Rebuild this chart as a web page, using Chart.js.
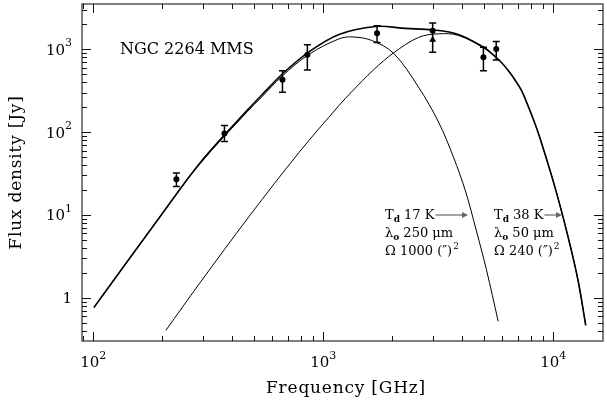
<!DOCTYPE html>
<html>
<head>
<meta charset="utf-8">
<script src="https://cdn.jsdelivr.net/npm/chart.js@4.4.1/dist/chart.umd.min.js"></script>
<style>
    body { margin: 0; background: #fff; }
    #wrap { width: 607px; height: 406px; position: relative; }
</style>
</head>
<body>
<div id="wrap"><canvas id="sed"></canvas></div>
<script>
// observed points (GHz, Jy)
const circFreq = [230, 372, 665, 853, 1714, 2990, 4970, 5650];
const circFlux = [27, 96, 428, 863, 1560, 1680, 801, 1010];
const circLow  = [22, 77, 303, 565, 1213, null, 553, 745];
const circHigh = [32, 120, 553, 1140, 1930, null, 1057, 1240];

const triFreq = [2990];
const triFlux = [1310];
const triLow  = [920];
const triHigh = [2080];

// total fit
const totalFreq = [100.7, 198, 290, 468, 537, 662, 867, 1170, 1690, 2280, 2985, 3865, 4965, 5483, 5940, 6383, 6830, 7265, 7620, 8166, 8750, 10160, 11560, 12790, 13840];
const totalFlux = [0.764, 10.06, 41.9, 184.6, 275, 500, 933, 1515, 1892, 1790, 1718, 1516, 1066, 859, 698, 551, 424, 321, 237, 146, 84.9, 21.8, 5.62, 1.66, 0.464];

// cold component (17 K)
const coldFreq = [100.7, 198, 290, 468, 537, 662, 867, 1170, 1331, 1622, 2023, 2596, 3170, 3680, 4150, 4630, 5120, 5762];
const coldFlux = [0.752, 9.99, 40.9, 177, 261, 473, 871, 1337, 1413, 1283, 895, 349, 132.5, 50.1, 19.5, 6.46, 2.19, 0.519];

// warm component (38 K)
const warmFreq = [207, 290, 477, 785, 1170, 1331, 1655, 2023, 2596, 3170, 3865, 4965, 5483, 5940, 6383, 6830, 7265, 7620, 8166, 8750, 10160, 11560, 12790, 13840];
const warmFlux = [0.404, 1.49, 9.64, 56.9, 209, 308, 566, 907, 1394, 1541, 1474, 1051, 859, 698, 551, 424, 321, 237, 146, 84.9, 21.8, 5.62, 1.66, 0.464];

// axis ranges and labels
const xMin = 89.4, xMax = 16450;
const yMin = 0.306, yMax = 3530;
const xPowers = [2, 3, 4];
const yPowers = [0, 1, 2, 3];

const FONT = '"DejaVu Serif", "Liberation Serif", serif';

function toXY(xs, ys) {
    return xs.map((x, i) => ({ x: x, y: ys[i] }));
}

// frame with inward ticks on all four sides
const framePlugin = {
    id: 'frame',
    afterDraw(chart) {
        const { ctx, chartArea: a, scales } = chart;
        ctx.save();
        ctx.strokeStyle = '#555';
        ctx.lineWidth = 1.5;
        ctx.strokeRect(a.left, a.top, a.right - a.left, a.bottom - a.top);

        ctx.strokeStyle = '#111';
        ctx.lineWidth = 1;
        const ticksFor = (min, max) => {
            const out = [];
            for (let p = Math.floor(Math.log10(min)); p <= Math.ceil(Math.log10(max)); p++) {
                for (let k = 1; k < 10; k++) {
                    const v = k * Math.pow(10, p);
                    if (v >= min && v <= max) out.push({ v: v, major: k === 1 });
                }
            }
            return out;
        };
        ticksFor(xMin, xMax).forEach(t => {
            const px = Math.round(scales.x.getPixelForValue(t.v)) + 0.5;
            const len = t.major ? 9 : 5;
            ctx.beginPath();
            ctx.moveTo(px, a.bottom); ctx.lineTo(px, a.bottom - len);
            ctx.moveTo(px, a.top); ctx.lineTo(px, a.top + len);
            ctx.stroke();
        });
        ticksFor(yMin, yMax).forEach(t => {
            const py = Math.round(scales.y.getPixelForValue(t.v)) + 0.5;
            const len = t.major ? 9 : 5;
            ctx.beginPath();
            ctx.moveTo(a.left, py); ctx.lineTo(a.left + len, py);
            ctx.moveTo(a.right, py); ctx.lineTo(a.right - len, py);
            ctx.stroke();
        });
        ctx.restore();
    }
};

// error bars with caps
const errorBarPlugin = {
    id: 'errorBars',
    afterDatasetsDraw(chart) {
        const { ctx, scales } = chart;
        ctx.save();
        ctx.strokeStyle = '#000';
        ctx.lineWidth = 1.5;
        const draw = (fs, lo, hi) => {
            fs.forEach((f, i) => {
                if (lo[i] == null) return;
                const x = scales.x.getPixelForValue(f);
                const y1 = scales.y.getPixelForValue(lo[i]);
                const y2 = scales.y.getPixelForValue(hi[i]);
                ctx.beginPath();
                ctx.moveTo(x, y1); ctx.lineTo(x, y2);
                ctx.moveTo(x - 3.5, y1); ctx.lineTo(x + 3.5, y1);
                ctx.moveTo(x - 3.5, y2); ctx.lineTo(x + 3.5, y2);
                ctx.stroke();
            });
        };
        draw(circFreq, circLow, circHigh);
        draw(triFreq, triLow, triHigh);
        ctx.restore();
    }
};

// text helpers
function drawPow(ctx, exp, x, y, align) {
    ctx.font = '15px ' + FONT;
    const w1 = ctx.measureText('10').width;
    ctx.font = '11px ' + FONT;
    const w2 = ctx.measureText(String(exp)).width;
    let start = x;
    if (align === 'center') start = x - (w1 + w2) / 2;
    if (align === 'right') start = x - w1 - w2;
    ctx.textAlign = 'left';
    ctx.textBaseline = 'alphabetic';
    ctx.font = '15px ' + FONT;
    ctx.fillText('10', start, y);
    ctx.font = '11px ' + FONT;
    ctx.fillText(String(exp), start + w1, y - 8.5);
}

function drawSub(ctx, main, sub, rest, x, y, size) {
    ctx.textAlign = 'left';
    ctx.textBaseline = 'alphabetic';
    ctx.font = size + 'px ' + FONT;
    ctx.fillText(main, x, y);
    let cx = x + ctx.measureText(main).width;
    ctx.font = 'bold ' + Math.round(size * 0.7) + 'px ' + FONT;
    ctx.fillText(sub, cx, y + 3);
    cx += ctx.measureText(sub).width;
    ctx.font = size + 'px ' + FONT;
    ctx.fillText(rest, cx, y);
    return cx + ctx.measureText(rest).width;
}

function drawArrow(ctx, x1, x2, y) {
    ctx.save();
    ctx.strokeStyle = '#666';
    ctx.fillStyle = '#666';
    ctx.lineWidth = 1.2;
    ctx.beginPath();
    ctx.moveTo(x1, y); ctx.lineTo(x2 - 4, y);
    ctx.stroke();
    ctx.beginPath();
    ctx.moveTo(x2, y); ctx.lineTo(x2 - 6, y - 3); ctx.lineTo(x2 - 6, y + 3);
    ctx.closePath();
    ctx.fill();
    ctx.restore();
}

function drawBlock(ctx, x, y, temp, lam, omega, arrowEnd) {
    const size = 13;
    const endT = drawSub(ctx, 'T', 'd', ' ' + temp + ' K', x, y, size);
    drawArrow(ctx, endT + 1, arrowEnd, y - 4);
    drawSub(ctx, 'λ', 'o', ' ' + lam + ' μm', x, y + 18, size);
    ctx.font = size + 'px ' + FONT;
    const s = 'Ω ' + omega + ' (″)';
    ctx.fillText(s, x, y + 36);
    const w = ctx.measureText(s).width;
    ctx.font = '9px ' + FONT;
    ctx.fillText('2', x + w + 1, y + 30);
}

const textPlugin = {
    id: 'texts',
    afterDraw(chart) {
        const { ctx, scales } = chart;
        ctx.save();
        ctx.fillStyle = '#000';

        xPowers.forEach(p => drawPow(ctx, p, scales.x.getPixelForValue(Math.pow(10, p)), 367, 'center'));
        yPowers.forEach(p => {
            const py = scales.y.getPixelForValue(Math.pow(10, p));
            if (p === 0) {
                ctx.font = '15px ' + FONT;
                ctx.textAlign = 'right';
                ctx.textBaseline = 'alphabetic';
                ctx.fillText('1', 72, py + 5.5);
            } else {
                drawPow(ctx, p, 72, py + 5.5, 'right');
            }
        });

        // axis titles
        ctx.font = '17px ' + FONT;
        ctx.letterSpacing = '0.8px';
        ctx.textAlign = 'center';
        ctx.textBaseline = 'alphabetic';
        ctx.fillText('Frequency [GHz]', 346, 393);

        ctx.save();
        ctx.translate(21, 172.5);
        ctx.rotate(-Math.PI / 2);
        ctx.fillText('Flux density [Jy]', 0, 0);
        ctx.restore();
        ctx.letterSpacing = '0px';

        ctx.font = '16px ' + FONT;
        ctx.textAlign = 'left';
        ctx.fillText('NGC 2264 MMS', 120, 54);

        drawBlock(ctx, 385, 219, '17', '250', '1000', 468);
        drawBlock(ctx, 494, 219, '38', '50', '240', 562);
        ctx.restore();
    }
};

// curve dataset
function curve(label, xs, ys, width) {
    return {
        label: label,
        data: toXY(xs, ys),
        borderColor: '#000',
        borderWidth: width,
        pointRadius: 0,
        tension: 0.35
    };
}

const ctx = document.getElementById('sed').getContext('2d');
new Chart(ctx, {
    type: 'line',
    data: {
        datasets: [
            curve('total', totalFreq, totalFlux, 1.6),
            curve('cold', coldFreq, coldFlux, 1),
            curve('warm', warmFreq, warmFlux, 1),
            {
                label: 'obs',
                type: 'scatter',
                data: toXY(circFreq, circFlux),
                showLine: false,
                pointRadius: 3,
                pointBackgroundColor: '#000',
                pointBorderColor: '#000',
                pointBorderWidth: 0
            },
            {
                label: 'obs-tri',
                type: 'scatter',
                data: toXY(triFreq, triFlux),
                showLine: false,
                pointStyle: 'triangle',
                pointRadius: 4,
                pointBackgroundColor: '#000',
                pointBorderColor: '#000',
                pointBorderWidth: 0
            }
        ]
    },
    options: {
        responsive: true,
        maintainAspectRatio: false,
        animation: false,
        layout: { padding: { left: 82, right: 2, top: 3.5, bottom: 65 } },
        plugins: {
            legend: { display: false },
            tooltip: { enabled: false }
        },
        scales: {
            x: { type: 'logarithmic', min: xMin, max: xMax, display: false },
            y: { type: 'logarithmic', min: yMin, max: yMax, display: false }
        }
    },
    plugins: [framePlugin, errorBarPlugin, textPlugin]
});
</script>
</body>
</html>
